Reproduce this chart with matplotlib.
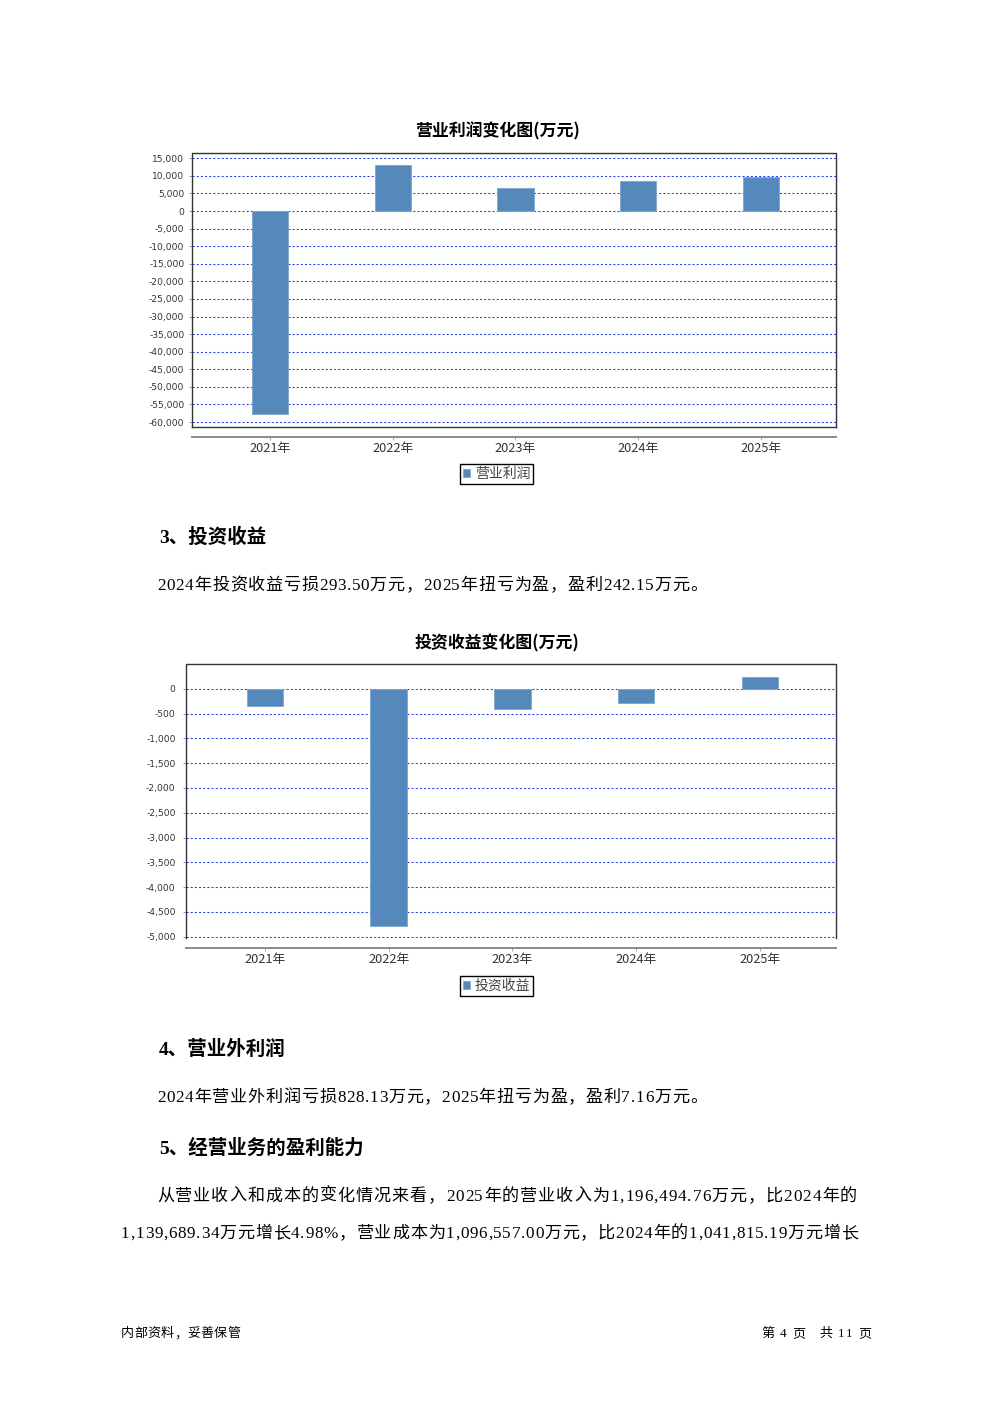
import matplotlib
matplotlib.use("Agg")
import matplotlib.pyplot as plt
import numpy as np

# ---------------- data ----------------
years = ['2021年', '2022年', '2023年', '2024年', '2025年']
op_profit = [-57700, 13080, 6540, 8440, 9580]          # 营业利润 (万元)
inv_income = [-343, -4785, -410, -293.50, 242.15]      # 投资收益 (万元)
op_ticks = list(range(15000, -60001, -5000))
inv_ticks = list(range(0, -5001, -500))

title1 = '营业利润变化图(万元)'
title2 = '投资收益变化图(万元)'
legend1 = '营业利润'
legend2 = '投资收益'

# ---------------- style ----------------
W, H = 992, 1403
fig = plt.figure(figsize=(W / 100, H / 100), dpi=100)
CJK = ['Noto Sans CJK SC', 'DejaVu Sans']
BODY = ['Liberation Serif', 'Noto Sans CJK SC']
BAR = '#5588bb'
GRID = '#2a3cf0'


def px_axes(x0, y0, x1, y1):
    return fig.add_axes([x0 / W, 1 - y1 / H, (x1 - x0) / W, (y1 - y0) / H])


def draw_chart(box, values, ticks, ylim, title, title_y, legend_label, legend_y,
               bottom_frame, ylabel_pad):
    ax = px_axes(*box)
    x = np.arange(len(years))
    bars = ax.bar(x, values, width=0.294, color=BAR, edgecolor='#7fa6cc', linewidth=0.6,
                  zorder=3)
    ax.set_xlim(-0.637, 4.613)
    ax.set_ylim(*ylim)
    ax.set_yticks(ticks)
    ax.set_yticklabels([f'{t:,}' for t in ticks], fontsize=6.6, color='#333333',
                       family='DejaVu Sans')
    ax.tick_params(axis='y', length=2, width=0.6, pad=ylabel_pad, color='#888888')
    for t in ticks:
        ax.axhline(t, color=GRID, lw=0.75, ls=(0, (2, 2)), zorder=1)
    # frame
    for s in ['top', 'left', 'right']:
        ax.spines[s].set_visible(False)
    ax.plot([0, 0, 1, 1], [0, 1, 1, 0], transform=ax.transAxes, color='#333333',
            lw=1.0, clip_on=False, zorder=4)
    if bottom_frame:
        ax.plot([0, 1], [0, 0], transform=ax.transAxes, color='#333333',
                lw=1.0, clip_on=False, zorder=4)
    # category axis (offset below the plot box)
    ax.spines['bottom'].set_position(('outward', 7.2))
    ax.spines['bottom'].set_color('#8a8a8a')
    ax.spines['bottom'].set_linewidth(1.4)
    ax.set_xticks(x)
    ax.set_xticklabels(years, fontsize=9.2, color='#333333', family=CJK)
    ax.tick_params(axis='x', length=2.5, width=0.6, color='#999999', pad=1.0)
    # title (centred on the page)
    fig.text(497 / W, 1 - title_y / H, title, ha='center', va='center',
             fontsize=12.2, fontweight='bold', family=CJK)
    # legend
    leg = ax.legend([bars], [legend_label], loc='center',
                    bbox_to_anchor=(496.5 / W, 1 - legend_y / H),
                    bbox_transform=fig.transFigure,
                    prop={'family': CJK, 'size': 10}, frameon=True, fancybox=False,
                    edgecolor='black', framealpha=1, handlelength=0.55, handleheight=0.55,
                    handletextpad=0.3, borderpad=0.2, borderaxespad=0)
    leg.get_frame().set_linewidth(1.0)
    for t in leg.get_texts():
        t.set_color('#444444')
    return ax


ax1 = draw_chart((192, 153, 836, 427), op_profit, op_ticks, (-61400, 16500),
                 title1, 131, legend1, 474, True, 3.5)
ax2 = draw_chart((186, 664, 836, 938), inv_income, inv_ticks, (-5025, 498),
                 title2, 643, legend2, 986, False, 5.5)

# ---------------- page text ----------------
renderer = fig.canvas.get_renderer()


def ptext(x, y, s, size, bold=False, family=BODY, ha='left', color='black'):
    fig.text(x / W, 1 - y / H, s, fontsize=size, family=family,
             fontweight='bold' if bold else 'normal', ha=ha, va='center', color=color)


def justified(x0, x1, y, s, size, family=BODY):
    """Lay a line out character by character so it spans x0..x1 pixels."""
    texts = [fig.text(0, 1 - y / H, c, fontsize=size, family=family,
                      ha='left', va='center') for c in s]
    widths = [t.get_window_extent(renderer).width for t in texts]
    gap = (x1 - x0 - sum(widths)) / (len(s) - 1)
    xx = x0
    for t, w in zip(texts, widths):
        t.set_x(xx / W)
        xx += w + gap


HEAD = ['Liberation Serif', 'Noto Sans CJK SC']
ptext(159, 537, '3、投资收益', 14, bold=True, family=HEAD)
justified(157, 707, 586, '2024年投资收益亏损293.50万元，2025年扭亏为盈，盈利242.15万元。', 12.3)
ptext(159, 1049, '4、营业外利润', 14, bold=True, family=HEAD)
justified(157, 707, 1098, '2024年营业外利润亏损828.13万元，2025年扭亏为盈，盈利7.16万元。', 12.3)
ptext(159, 1148, '5、经营业务的盈利能力', 14, bold=True, family=HEAD)
justified(157, 857, 1197, '从营业收入和成本的变化情况来看，2025年的营业收入为1,196,494.76万元，比2024年的', 12.3)
justified(121, 858, 1234, '1,139,689.34万元增长4.98%，营业成本为1,096,557.00万元，比2024年的1,041,815.19万元增长', 12.3)

justified(121, 240, 1334, '内部资料，妥善保管', 9.4, family=CJK)
justified(761, 871, 1334, '第 4 页   共 11 页', 9.4, family=['Liberation Serif', 'Noto Sans CJK SC'])

fig.savefig('out.png', dpi=100)
